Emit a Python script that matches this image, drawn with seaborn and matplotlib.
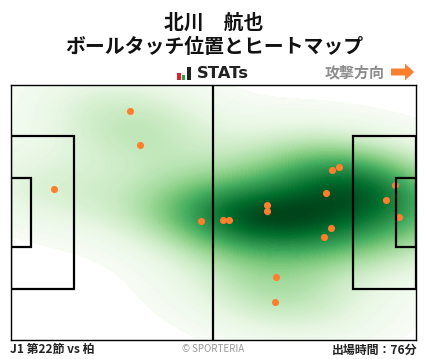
import matplotlib
matplotlib.use('Agg')
import matplotlib.pyplot as plt
from matplotlib.patches import Rectangle, FancyArrow
import pandas as pd
import seaborn as sns

# ボールタッチ位置 (ピッチ座標 m)
touch_x = [30.85, 33.44, 11.28, 49.26, 55.04, 56.6, 66.45, 66.45, 68.78,
           68.52, 81.23, 83.04, 81.74, 83.3, 85.12, 97.1, 99.4, 100.4]
touch_y = [60.99, 51.92, 40.19, 31.65, 31.92, 31.92, 35.92, 34.32, 16.72,
           10.32, 27.39, 29.79, 39.12, 45.25, 46.05, 37.25, 41.25, 32.72]

title_lines = ['北川　航也', 'ボールタッチ位置とヒートマップ']
footer_left = 'J1 第22節 vs 柏'
footer_right = '出場時間：76分'
credit = '© SPORTERIA'
direction = '攻撃方向'

sns.set_theme(style='white')
plt.rcParams['font.family'] = ['Noto Sans CJK JP', 'DejaVu Sans']

df = pd.DataFrame({'x': touch_x, 'y': touch_y})

fig = plt.figure(figsize=(4.28, 3.59), dpi=100)
W, H = 428, 359

# ピッチ
ax = fig.add_axes([10.5 / W, 1 - 340.3 / H, 405.8 / W, 255.6 / H])
sns.kdeplot(data=df, x='x', y='y', fill=True, cmap='Greens', levels=100, thresh=0.015,
            bw_adjust=1.05, gridsize=200, cut=6, antialiased=False, ax=ax)
sns.scatterplot(data=df, x='x', y='y', color='#ff7f2e', s=26, linewidth=0, ax=ax, zorder=5)
ax.set_xlim(0, 105)
ax.set_ylim(0, 68)
ax.set_xlabel('')
ax.set_ylabel('')
ax.set_xticks([])
ax.set_yticks([])
for s in ax.spines.values():
    s.set_color('black')
    s.set_linewidth(1.0)
    s.set_zorder(10)

lw = 1.6
ax.plot([52.3, 52.3], [0, 68], color='black', lw=lw, zorder=6)
for x0, w in [(0, 16.4), (88.55, 16.45)]:
    ax.add_patch(Rectangle((x0, 13.73), w, 40.7, fill=False, ec='black', lw=lw, zorder=6))
for x0, w in [(0, 5.3), (99.65, 5.35)]:
    ax.add_patch(Rectangle((x0, 24.9), w, 18.28, fill=False, ec='black', lw=lw, zorder=6))

# 文字とロゴ
ov = fig.add_axes([0, 0, 1, 1], facecolor='none')
ov.set_xlim(0, W)
ov.set_ylim(H, 0)
ov.axis('off')

ov.text(214, 22, title_lines[0], ha='center', va='center', fontsize=14.3, fontweight='bold', color='#111111')
ov.text(214, 46.5, title_lines[1], ha='center', va='center', fontsize=14.3, fontweight='bold', color='#111111')

ov.add_patch(Rectangle((177, 73), 4, 7, color='#e0202a', lw=0))
ov.add_patch(Rectangle((182, 75), 3.5, 5, color='#2e9e4a', lw=0))
ov.add_patch(Rectangle((187, 67), 4, 13, color='#222222', lw=0))
ov.text(197, 73.5, 'STATs', ha='left', va='center', fontsize=11.8, fontweight='bold', color='#222222',
        family='DejaVu Sans')

ov.text(355, 72, direction, ha='center', va='center', fontsize=10.8, fontweight='bold', color='#8c8c8c')
ov.add_patch(FancyArrow(391, 72, 23, 0, width=7, head_width=17, head_length=9,
                        length_includes_head=True, color='#ff7f2e', lw=0))

ov.text(10, 350, footer_left, ha='left', va='center', fontsize=8.6, fontweight='bold', color='#222222')
ov.text(213, 348.5, credit, ha='center', va='center', fontsize=7, color='#999999')
ov.text(417, 350, footer_right, ha='right', va='center', fontsize=8.6, fontweight='bold', color='#222222')

fig.savefig('out.png', dpi=100)
